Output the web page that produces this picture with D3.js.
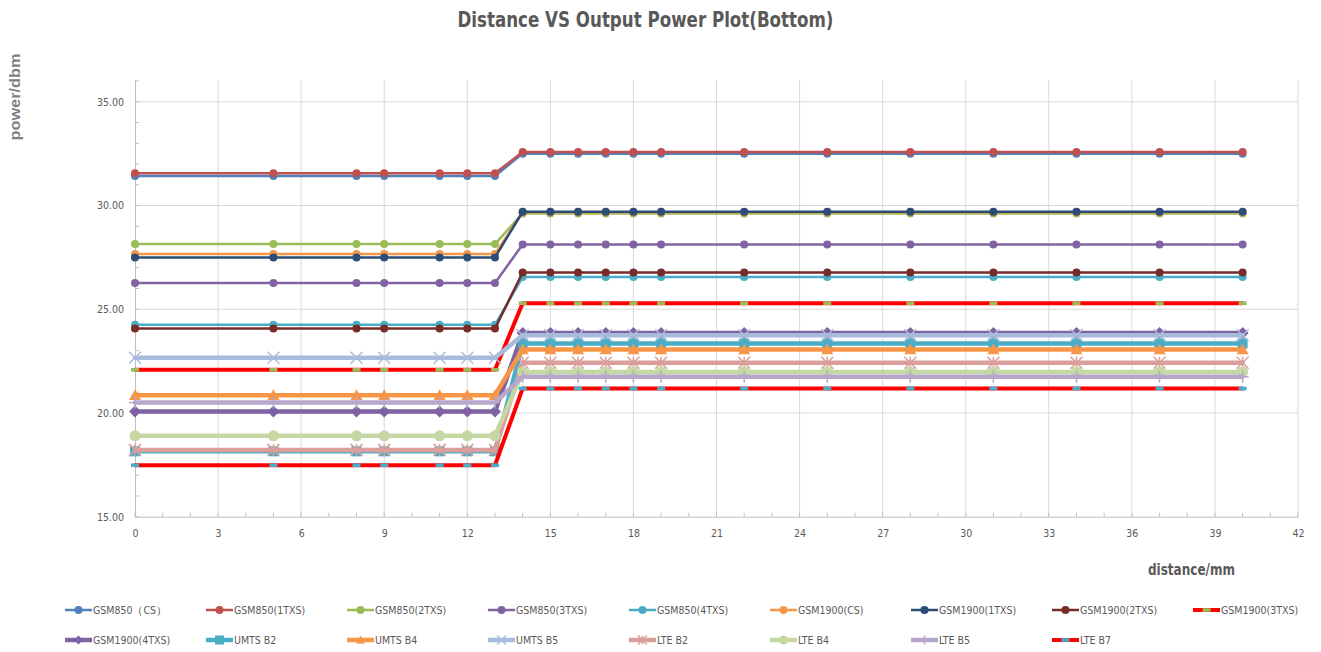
<!DOCTYPE html>
<html>
<head>
<meta charset="utf-8">
<script src="https://cdn.jsdelivr.net/npm/d3@7/dist/d3.min.js"></script>
<style>
  html, body { margin: 0; padding: 0; background: #fff; }
  svg { display: block; }
  .narrow { font-family: "Liberation Sans Narrow", "DejaVu Sans Condensed", "Roboto", sans-serif; }
</style>
</head>
<body>
<svg id="chart" width="1321" height="652"></svg>
<script>
// ---------- DATA ----------
const distances = [0, 5, 8, 9, 11, 12, 13, 14, 15, 16, 17, 18, 19, 22, 25, 28, 31, 34, 37, 40];
const xTicks = [0, 3, 6, 9, 12, 15, 18, 21, 24, 27, 30, 33, 36, 39, 42];
const yTicks = [15, 20, 25, 30, 35];

const seriesNames = [
  "GSM850（CS）", "GSM850(1TXS)", "GSM850(2TXS)", "GSM850(3TXS)", "GSM850(4TXS)",
  "GSM1900(CS)", "GSM1900(1TXS)", "GSM1900(2TXS)", "GSM1900(3TXS)",
  "GSM1900(4TXS)", "UMTS B2", "UMTS B4", "UMTS B5", "LTE B2", "LTE B4", "LTE B5", "LTE B7"
];

const gsm850_cs   = [31.42,31.42,31.42,31.42,31.42,31.42,31.42,32.50,32.50,32.50,32.50,32.50,32.50,32.50,32.50,32.50,32.50,32.50,32.50,32.50];
const gsm850_1txs = [31.55,31.55,31.55,31.55,31.55,31.55,31.55,32.58,32.58,32.58,32.58,32.58,32.58,32.58,32.58,32.58,32.58,32.58,32.58,32.58];
const gsm850_2txs = [28.14,28.14,28.14,28.14,28.14,28.14,28.14,29.62,29.62,29.62,29.62,29.62,29.62,29.62,29.62,29.62,29.62,29.62,29.62,29.62];
const gsm850_3txs = [26.27,26.27,26.27,26.27,26.27,26.27,26.27,28.12,28.12,28.12,28.12,28.12,28.12,28.12,28.12,28.12,28.12,28.12,28.12,28.12];
const gsm850_4txs = [24.25,24.25,24.25,24.25,24.25,24.25,24.25,26.55,26.55,26.55,26.55,26.55,26.55,26.55,26.55,26.55,26.55,26.55,26.55,26.55];
const gsm1900_cs   = [27.66,27.66,27.66,27.66,27.66,27.66,27.66,29.67,29.67,29.67,29.67,29.67,29.67,29.67,29.67,29.67,29.67,29.67,29.67,29.67];
const gsm1900_1txs = [27.50,27.50,27.50,27.50,27.50,27.50,27.50,29.70,29.70,29.70,29.70,29.70,29.70,29.70,29.70,29.70,29.70,29.70,29.70,29.70];
const gsm1900_2txs = [24.07,24.07,24.07,24.07,24.07,24.07,24.07,26.77,26.77,26.77,26.77,26.77,26.77,26.77,26.77,26.77,26.77,26.77,26.77,26.77];
const gsm1900_3txs = [22.08,22.08,22.08,22.08,22.08,22.08,22.08,25.29,25.29,25.29,25.29,25.29,25.29,25.29,25.29,25.29,25.29,25.29,25.29,25.29];
const gsm1900_4txs = [20.07,20.07,20.07,20.07,20.07,20.07,20.07,23.86,23.86,23.86,23.86,23.86,23.86,23.86,23.86,23.86,23.86,23.86,23.86,23.86];
const umts_b2 = [18.15,18.15,18.15,18.15,18.15,18.15,18.15,23.35,23.35,23.35,23.35,23.35,23.35,23.35,23.35,23.35,23.35,23.35,23.35,23.35];
const umts_b4 = [20.86,20.86,20.86,20.86,20.86,20.86,20.86,23.06,23.06,23.06,23.06,23.06,23.06,23.06,23.06,23.06,23.06,23.06,23.06,23.06];
const umts_b5 = [22.66,22.66,22.66,22.66,22.66,22.66,22.66,23.75,23.75,23.75,23.75,23.75,23.75,23.75,23.75,23.75,23.75,23.75,23.75,23.75];
const lte_b2 = [18.22,18.22,18.22,18.22,18.22,18.22,18.22,22.42,22.42,22.42,22.42,22.42,22.42,22.42,22.42,22.42,22.42,22.42,22.42,22.42];
const lte_b4 = [18.90,18.90,18.90,18.90,18.90,18.90,18.90,21.98,21.98,21.98,21.98,21.98,21.98,21.98,21.98,21.98,21.98,21.98,21.98,21.98];
const lte_b5 = [20.50,20.50,20.50,20.50,20.50,20.50,20.50,21.74,21.74,21.74,21.74,21.74,21.74,21.74,21.74,21.74,21.74,21.74,21.74,21.74];
const lte_b7 = [17.48,17.48,17.48,17.48,17.48,17.48,17.48,21.18,21.18,21.18,21.18,21.18,21.18,21.18,21.18,21.18,21.18,21.18,21.18,21.18];

const seriesValues = [gsm850_cs, gsm850_1txs, gsm850_2txs, gsm850_3txs, gsm850_4txs,
  gsm1900_cs, gsm1900_1txs, gsm1900_2txs, gsm1900_3txs, gsm1900_4txs,
  umts_b2, umts_b4, umts_b5, lte_b2, lte_b4, lte_b5, lte_b7];

// ---------- STYLES ----------
const styles = [
  {stroke:"#4F81BD", width:2.5, marker:"circle", mcolor:"#4F81BD", msize:4},
  {stroke:"#C0504D", width:2.5, marker:"circle", mcolor:"#C0504D", msize:4},
  {stroke:"#9BBB59", width:2.5, marker:"circle", mcolor:"#9BBB59", msize:4},
  {stroke:"#8064A2", width:2.5, marker:"circle", mcolor:"#8064A2", msize:4},
  {stroke:"#4BACC6", width:2.5, marker:"circle", mcolor:"#4BACC6", msize:4},
  {stroke:"#F79646", width:2.5, marker:"circle", mcolor:"#F79646", msize:4},
  {stroke:"#2C4D75", width:2.5, marker:"circle", mcolor:"#2C4D75", msize:4},
  {stroke:"#772C2A", width:2.5, marker:"circle", mcolor:"#772C2A", msize:4},
  {stroke:"#FF0000", width:4,   marker:"dash",   mcolor:"#9BBB59", msize:4},
  {stroke:"#7E62A3", width:4.5, marker:"diamond",mcolor:"#7E62A3", msize:6},
  {stroke:"#4BACC6", width:4.5, marker:"square", mcolor:"#4BACC6", msize:5},
  {stroke:"#F79646", width:4.5, marker:"triangle",mcolor:"#F79646", msize:6},
  {stroke:"#A9BBDC", width:4.5, marker:"x",      mcolor:"#A9BBDC", msize:6},
  {stroke:"#DA9E9C", width:4.5, marker:"star",   mcolor:"#DA9E9C", msize:6},
  {stroke:"#C5D7A2", width:4.5, marker:"circle", mcolor:"#C5D7A2", msize:5.5},
  {stroke:"#B6A7CB", width:4.5, marker:"plus",   mcolor:"#B6A7CB", msize:6},
  {stroke:"#FF0000", width:4,   marker:"dash",   mcolor:"#4BACC6", msize:4}
];

// ---------- CHART ----------
const svg = d3.select("#chart");
const x = d3.scaleLinear().domain([0, 42]).range([135, 1298]);
const y = d3.scaleLinear().domain([15, 36.05]).range([516.7, 80]);

// gridlines
const grid = svg.append("g");
grid.selectAll("line.v").data(xTicks.slice(1)).join("line")
  .attr("x1", d => x(d)).attr("x2", d => x(d)).attr("y1", y(36.05)).attr("y2", y(15))
  .attr("stroke", "#D9D9D9").attr("stroke-width", 1);
grid.selectAll("line.h").data(yTicks.slice(1)).join("line")
  .attr("x1", x(0)).attr("x2", x(42)).attr("y1", d => y(d)).attr("y2", d => y(d))
  .attr("stroke", "#D9D9D9").attr("stroke-width", 1);

// axes
const xAxis = d3.axisBottom(x).tickValues(xTicks).tickSize(0).tickPadding(13).tickFormat(d3.format("d"));
const gx = svg.append("g").attr("transform", `translate(0,${y(15)})`).call(xAxis);
gx.select(".domain").attr("stroke", "#BFBFBF");
gx.selectAll("text").attr("class", "narrow").attr("font-size", 10.5).attr("fill", "#595959");

const yAxis = d3.axisLeft(y).tickValues(yTicks).tickSize(0).tickPadding(11).tickFormat(d3.format(".2f"));
const gy = svg.append("g").attr("transform", `translate(${x(0)},0)`).call(yAxis);
gy.select(".domain").attr("stroke", "#BFBFBF");
gy.selectAll("text").attr("class", "narrow").attr("font-size", 10.5).attr("fill", "#595959");

// minor ticks
svg.append("g").selectAll("line").data(d3.range(0, 43)).join("line")
  .attr("x1", d => x(d)).attr("x2", d => x(d)).attr("y1", y(15)).attr("y2", y(15) - 4)
  .attr("stroke", "#BFBFBF");
svg.append("g").selectAll("line").data(d3.range(15, 37)).join("line")
  .attr("x1", x(0)).attr("x2", x(0) + 4).attr("y1", d => y(d)).attr("y2", d => y(d))
  .attr("stroke", "#BFBFBF");

// marker drawing
function drawMarker(g, type, color, s) {
  if (type === "circle") {
    g.append("circle").attr("r", s).attr("fill", color);
  } else if (type === "dash") {
    g.append("rect").attr("x", -s).attr("y", -1.8).attr("width", 2*s).attr("height", 3.6).attr("fill", color);
  } else if (type === "diamond") {
    g.append("path").attr("d", `M0,${-s}L${s},0L0,${s}L${-s},0Z`).attr("fill", color);
  } else if (type === "square") {
    g.append("rect").attr("x", -s).attr("y", -s).attr("width", 2*s).attr("height", 2*s).attr("fill", color);
  } else if (type === "triangle") {
    g.append("path").attr("d", `M0,${-s}L${s},${s*0.8}L${-s},${s*0.8}Z`).attr("fill", color);
  } else if (type === "x") {
    g.append("path").attr("d", `M${-s},${-s}L${s},${s}M${-s},${s}L${s},${-s}`)
      .attr("stroke", color).attr("stroke-width", 1.5);
  } else if (type === "star") {
    g.append("path").attr("d", `M${-s},${-s}L${s},${s}M${-s},${s}L${s},${-s}M0,${-s}L0,${s}`)
      .attr("stroke", color).attr("stroke-width", 1.5);
  } else if (type === "plus") {
    g.append("path").attr("d", `M${-s},0L${s},0M0,${-s}L0,${s}`)
      .attr("stroke", color).attr("stroke-width", 1.5);
  }
}

const line = d3.line().x(d => x(d[0])).y(d => y(d[1]));
const plot = svg.append("g");
seriesValues.forEach((vals, i) => {
  const st = styles[i];
  const pts = distances.map((d, j) => [d, vals[j]]);
  const g = plot.append("g");
  g.append("path").datum(pts).attr("d", line).attr("fill", "none")
    .attr("stroke", st.stroke).attr("stroke-width", st.width)
    .attr("stroke-linejoin", "round").attr("stroke-linecap", "round");
  pts.forEach(p => {
    const mg = g.append("g").attr("transform", `translate(${x(p[0])},${y(p[1])})`);
    drawMarker(mg, st.marker, st.mcolor, st.msize);
  });
});

// title
svg.append("text").attr("class", "narrow").attr("x", 645.5).attr("y", 27)
  .attr("text-anchor", "middle").attr("font-size", 21).attr("font-weight", "bold")
  .attr("textLength", 376).attr("lengthAdjust", "spacingAndGlyphs")
  .attr("fill", "#595959").text("Distance VS Output Power Plot(Bottom)");

// axis titles
svg.append("text").attr("transform", "translate(20,97) rotate(-90)")
  .attr("text-anchor", "middle").attr("font-family", "Liberation Sans, Arial, sans-serif")
  .attr("font-size", 14).attr("font-weight", "bold").attr("fill", "#7F7F7F")
  .attr("textLength", 87).attr("lengthAdjust", "spacingAndGlyphs").text("power/dbm");
svg.append("text").attr("class", "narrow").attr("x", 1191.5).attr("y", 575)
  .attr("text-anchor", "middle").attr("font-size", 15).attr("font-weight", "bold")
  .attr("textLength", 87).attr("lengthAdjust", "spacingAndGlyphs")
  .attr("fill", "#595959").text("distance/mm");

// legend
const legend = svg.append("g");
seriesNames.forEach((name, i) => {
  const row = i < 9 ? 0 : 1;
  const col = i < 9 ? i : i - 9;
  const lx = 65 + col * 141;
  const ly = row === 0 ? 610 : 640;
  const st = styles[i];
  const g = legend.append("g").attr("transform", `translate(${lx},${ly})`);
  g.append("line").attr("x1", 0).attr("x2", 27).attr("y1", 0).attr("y2", 0)
    .attr("stroke", st.stroke).attr("stroke-width", st.width);
  const mg = g.append("g").attr("transform", "translate(13.5,0)");
  drawMarker(mg, st.marker, st.mcolor, Math.min(st.msize, 4.5));
  g.append("text").attr("class", "narrow").attr("x", 28).attr("y", 3.5)
    .attr("font-size", 10.5).attr("fill", "#595959").text(name);
});
</script>
</body>
</html>
